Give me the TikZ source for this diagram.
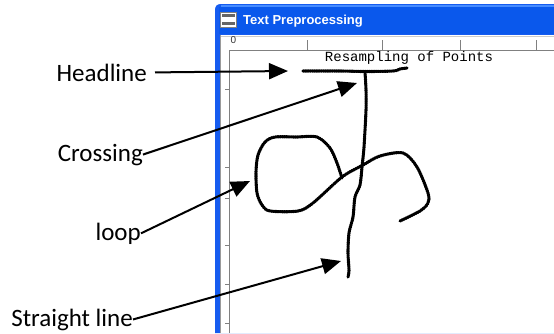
\documentclass[tikz,border=0pt]{standalone}
\usepackage{fontspec}
\setmainfont{Carlito}
\newfontfamily\monof{Liberation Mono}
\newfontfamily\titlef{Liberation Sans}
\usetikzlibrary{arrows.meta}
\definecolor{winblue}{RGB}{10,88,236}
\definecolor{winlight}{RGB}{70,140,255}
\definecolor{winframe}{RGB}{22,92,240}
\definecolor{rulegray}{RGB}{128,128,128}
\begin{document}
\begin{tikzpicture}[x=1pt,y=-1pt,
  lbl/.style={anchor=base east, inner sep=0pt, font=\fontsize{25}{30}\selectfont},
  callout/.style={line width=2pt, -{Triangle[length=19pt,width=16pt]}},
  ink/.style={line width=1.7pt, line cap=round, line join=round, draw=black,
    postaction={draw=black, line width=3.1pt, dash pattern=on 1.3pt off 0.9pt}},
  rtick/.style={draw=rulegray, line width=0.9pt}]
\useasboundingbox (0,0) rectangle (554,333);
\fill[white] (0,0) rectangle (554,333);
% window frame
\fill[winframe] (215,333) -- (215,10) .. controls (215,6) and (217,4) .. (221,4) -- (554,4) -- (554,333) -- cycle;
\fill[winblue] (219,7) rectangle (554,34);
\fill[winlight] (221,4.5) rectangle (554,7);
\fill[white] (219.5,35) rectangle (554,333);
\draw[rulegray!80, line width=1.5pt] (220.3,35) -- (220.3,333);
\draw[rulegray!40, line width=0.6pt] (221,36) -- (554,36);
% icon
\node[draw=gray, fill=white, minimum width=16pt, minimum height=15pt, inner sep=0pt] (icon) at (228.5,19.5) {};
\fill[black!60] (222,14) rectangle (235,17);
\fill[black!60] (222,22) rectangle (235,25);
% title
\node[anchor=west, inner sep=0pt, text=white, font=\titlef\bfseries\fontsize{13}{15}\selectfont] (title) at (243,21.5) {Text Preprocessing};
% rulers
\draw[rulegray, line width=1pt] (229,333) -- (229,50) -- (554,50);
\foreach \x in {307,382,460,536} \draw[rtick] (\x,40) -- (\x,50);
\foreach \y in {89,167,198,245,284,323} \draw[rtick] (225,\y) -- (229,\y);
\node[inner sep=0pt, font=\titlef\fontsize{10}{11}\selectfont, text=black!80] (zero) at (233.5,40) {0};
\node[inner sep=0pt, font=\monof\fontsize{14}{16}\selectfont] (heading) at (409,58) {Resampling of Points};
% handwriting
\draw[ink] plot[smooth, tension=0.5] coordinates {(303,71) (340,71) (365,71.5) (393,71) (400,69) (407,68)};
\draw[ink] plot[smooth, tension=0.5] coordinates {(365,72) (366,90) (366,110) (364,147) (362,167) (360,185) (355,197) (353,217) (349,233) (348,253) (349,270) (348,277)};
\draw[ink] plot[smooth, tension=0.5] coordinates {(342,178) (337,163) (330,148) (317,137) (296,137) (275,137) (265,142) (258,155) (256,172) (257,193) (262,205) (270,211) (298,211) (313,203) (342,177) (363,165) (380,156) (403,153) (417,167) (428,193) (428,203) (420,211) (400,221)};
% tips
\coordinate (thl) at (288,71);
\coordinate (tcr) at (357,83);
\coordinate (tlp) at (250,181);
\coordinate (tsl) at (341,261);
% labels
\node[lbl] (hl) at (147,81) {Headline};
\node[lbl] (cr) at (143,161) {Crossing};
\node[lbl] (lp) at (141,240) {loop};
\node[lbl] (sl) at (133,326) {Straight line};
\draw[callout] ([xshift=8pt]hl.east) -- (thl);
\draw[callout] (cr.east) -- (tcr);
\draw[callout] (lp.east) -- (tlp);
\draw[callout] (sl.east) -- (tsl);
\end{tikzpicture}
\end{document}
